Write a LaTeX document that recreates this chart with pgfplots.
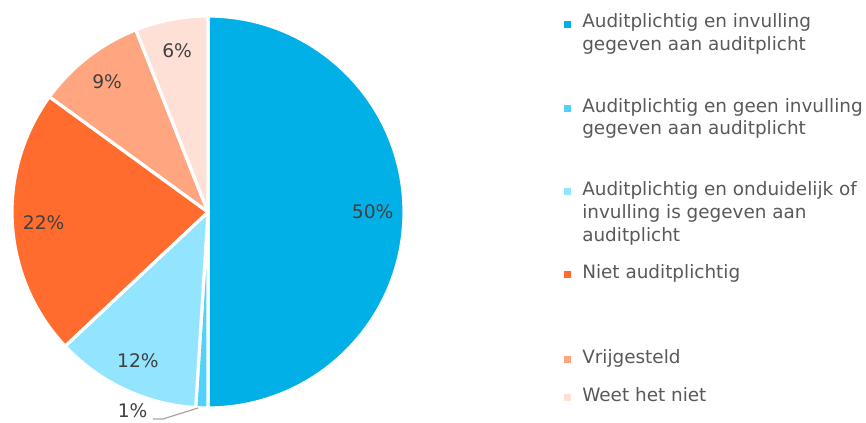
\documentclass[border=0pt]{standalone}
\usepackage{pgfplots}
\usepackage{pgfplotstable}
\pgfplotsset{compat=1.18}
\usepackage{fontspec}
\setmainfont{DejaVu Sans}

\definecolor{pc0}{RGB}{0,176,230}
\definecolor{pc1}{RGB}{80,210,250}
\definecolor{pc2}{RGB}{146,228,255}
\definecolor{pc3}{RGB}{255,108,46}
\definecolor{pc4}{RGB}{255,166,128}
\definecolor{pc5}{RGB}{255,224,214}
\definecolor{legtext}{RGB}{89,89,89}
\definecolor{labtext}{RGB}{64,64,64}

% share of each group, clockwise from 12 o'clock
\pgfplotstableread{
idx pct
0   50
1   1
2   12
3   22
4   9
5   6
}\piedata

% start / end / middle angle of every slice
\def\cum{90}
\pgfplotsforeachungrouped \i in {0,...,5}{%
  \pgfplotstablegetelem{\i}{pct}\of\piedata
  \let\v\pgfplotsretval
  \pgfmathsetmacro\b{\cum-3.6*\v}
  \pgfmathsetmacro\m{(\cum+\b)/2}
  \expandafter\edef\csname pa\i\endcsname{\cum}%
  \expandafter\edef\csname pb\i\endcsname{\b}%
  \expandafter\edef\csname pm\i\endcsname{\m}%
  \expandafter\edef\csname pv\i\endcsname{\v}%
  \edef\cum{\b}%
}

\begin{document}
\begin{tikzpicture}
\path[use as bounding box] (0,0) rectangle (649.5pt,316.5pt);
\begin{axis}[
  at={(156pt,157.5pt)}, anchor=origin,
  x=147pt, y=147pt,
  xmin=-1.1, xmax=1.1, ymin=-1.1, ymax=1.1,
  hide axis, clip=false,
]
\pgfplotsinvokeforeach{0,...,5}{
  \fill[fill=pc#1, draw=white, line width=2.4pt, line join=round]
    (axis cs:0,0) -- (axis cs:{cos(\csname pa#1\endcsname)},{sin(\csname pa#1\endcsname)})
    arc[start angle=\csname pa#1\endcsname, end angle=\csname pb#1\endcsname, radius=147pt] -- cycle;
}
\pgfplotsinvokeforeach{0,2,3,4,5}{
  \node[font=\fontsize{14}{16}\selectfont, text=labtext]
    at (axis cs:{0.84*cos(\csname pm#1\endcsname)},{0.84*sin(\csname pm#1\endcsname)})
    {\csname pv#1\endcsname\%};
}
\draw[color=black!35, line width=0.9pt]
  (axis cs:-0.281,-1.056) -- (axis cs:-0.230,-1.056) -- (axis cs:-0.051,-1.0);
\node[font=\fontsize{14}{16}\selectfont, text=labtext, anchor=east]
  at (axis cs:-0.285,-1.012) {\csname pv1\endcsname\%};
\end{axis}

% legend
\begin{scope}[every node/.style={anchor=base west, inner sep=0pt, text=legtext,
    font=\fontsize{13.8}{16}\selectfont}]
  \fill[pc0] (428.6pt,300.4pt) rectangle +(-5.25pt,-5.25pt);
  \node at (436.5pt,295.5pt) {Auditplichtig en invulling};
  \node at (436.5pt,278.25pt) {gegeven aan auditplicht};
  \fill[pc1] (428.6pt,237.4pt) rectangle +(-5.25pt,-5.25pt);
  \node at (436.5pt,232.5pt) {Auditplichtig en geen invulling};
  \node at (436.5pt,215.25pt) {gegeven aan auditplicht};
  \fill[pc2] (428.6pt,175.15pt) rectangle +(-5.25pt,-5.25pt);
  \node at (436.5pt,170.25pt) {Auditplichtig en onduidelijk of};
  \node at (436.5pt,153pt) {invulling is gegeven aan};
  \node at (436.5pt,135.75pt) {auditplicht};
  \fill[pc3] (428.6pt,112.9pt) rectangle +(-5.25pt,-5.25pt);
  \node at (436.5pt,108pt) {Niet auditplichtig};
  \fill[pc4] (428.6pt,49.15pt) rectangle +(-5.25pt,-5.25pt);
  \node at (436.5pt,44.25pt) {Vrijgesteld};
  \fill[pc5] (428.6pt,20.65pt) rectangle +(-5.25pt,-5.25pt);
  \node at (436.5pt,15.75pt) {Weet het niet};
\end{scope}
\end{tikzpicture}
\end{document}
